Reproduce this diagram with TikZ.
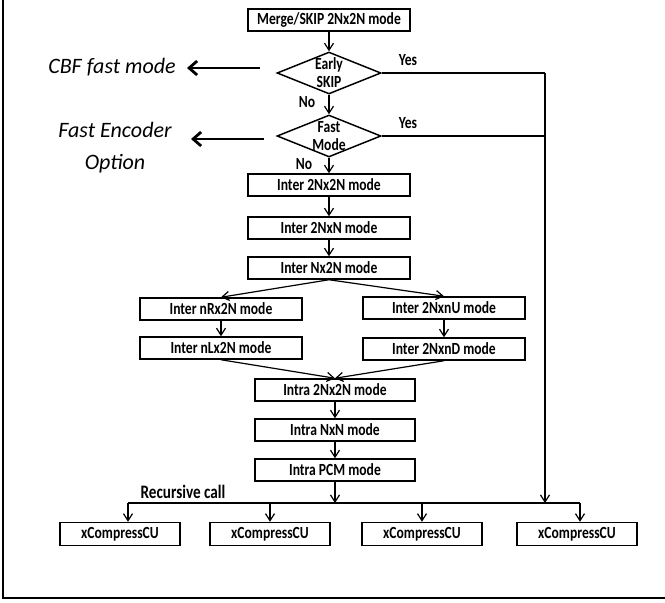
\documentclass[tikz,border=0pt]{standalone}
\usepackage{fontspec}
\setmainfont{Carlito}
\newfontfamily\boxfont{Carlito}[FakeStretch=0.8]
\usetikzlibrary{shapes.geometric,arrows.meta}

\tikzset{
  modebox/.style={draw,line width=1.5pt,minimum width=162pt,minimum height=22pt,
    inner sep=0pt,font=\boxfont\bfseries\fontsize{17}{17}\selectfont},
  cubox/.style={modebox,minimum width=120pt,minimum height=23pt},
  decision/.style={draw,diamond,line width=1.5pt,minimum width=104pt,minimum height=42pt,
    inner sep=0pt},
  decisiontext/.style={align=center,inner sep=0pt,font=\boxfont\bfseries\fontsize{17}{18}\selectfont},
  flow/.style={line width=1.2pt,-{Straight Barb[length=7pt,width=9pt]}},
  plain/.style={line width=1.2pt},
  bigarrow/.style={line width=2.8pt,-{Straight Barb[length=8pt,width=14pt]}},
  ynlabel/.style={font=\boxfont\bfseries\fontsize{17}{17}\selectfont},
  sidelabel/.style={font=\itshape\fontsize{22}{32}\selectfont,align=center}
}

\begin{document}
\begin{tikzpicture}[x=1pt,y=-1pt]
    \useasboundingbox (0,0) rectangle (665,603);
    % frame
    \draw[line width=2pt] (3,0) -- (3,598) -- (665,598);

    % top of the chart
    \node[modebox] (merge) at (329,20) {Merge/SKIP 2Nx2N mode};
    \node[decision] (early) at (329,73) {};
    \node[decisiontext] (earlytxt) at (early) {Early\\SKIP};
    \node[decision] (fastm) at (329,136) {};
    \node[decisiontext] (fastmtxt) at (fastm) {Fast\\Mode};
    \draw[flow] (merge) -- (early);
    \draw[flow] (early) -- (fastm);
    \node[ynlabel] (no1) at (307,102) {No};
    \node[ynlabel] (no2) at (304,164) {No};
    \node[ynlabel] (yes1) at (408,60) {Yes};
    \node[ynlabel] (yes2) at (408,123) {Yes};

    % notes on the left
    \node[sidelabel] (cbf) at (112,67) {CBF fast mode};
    \node[sidelabel] (fenc) at (115,148) {Fast Encoder\\Option};
    \coordinate (cbfend) at (260,68);
    \coordinate (cbfhead) at (187,68);
    \coordinate (fencend) at (264,139);
    \coordinate (fenchead) at (191,139);
    \draw[bigarrow] (cbfend) -- (cbfhead);
    \draw[bigarrow] (fencend) -- (fenchead);

    % inter modes
    \node[modebox] (inter1) at (329,185) {Inter 2Nx2N mode};
    \node[modebox] (inter2) at (329,228) {Inter 2NxN mode};
    \node[modebox] (inter3) at (329,268) {Inter Nx2N mode};
    \node[modebox] (nrx) at (221,309) {Inter nRx2N mode};
    \node[modebox] (nlx) at (221,348) {Inter nLx2N mode};
    \node[modebox] (nu) at (444,308) {Inter 2NxnU mode};
    \node[modebox] (nd) at (444,349) {Inter 2NxnD mode};
    \draw[flow] (fastm) -- (inter1);
    \draw[flow] (inter1) -- (inter2);
    \draw[flow] (inter2) -- (inter3);
    \draw[flow] (inter3.south) -- (nrx.north);
    \draw[flow] (inter3.south) -- (nu.north);
    \draw[flow] (nrx) -- (nlx);
    \draw[flow] (nu) -- (nd);

    % intra modes
    \node[modebox,minimum width=160pt] (intra1) at (335,390) {Intra 2Nx2N mode};
    \node[modebox,minimum width=160pt] (intra2) at (335,430) {Intra NxN mode};
    \node[modebox,minimum width=160pt] (intra3) at (335,470) {Intra PCM mode};
    \draw[flow] (nlx.south) -- (intra1.north);
    \draw[flow] (nd.south) -- (intra1.north);
    \draw[flow] (intra1) -- (intra2);
    \draw[flow] (intra2) -- (intra3);

    % skip path on the right
    \coordinate (railtop) at (545,73);
    \coordinate (railbot) at (545,503);
    \draw[plain] (early.east) -- (railtop);
    \draw[plain] (fastm.east) -- (fastm.east -| railtop);
    \draw[flow] (railtop) -- (railbot);

    % recursive call
    \coordinate (busl) at (128,503);
    \coordinate (busr) at (580,503);
    \node[ynlabel,font=\boxfont\bfseries\fontsize{19}{19}\selectfont] (rec) at (183,492) {Recursive call};
    \draw[flow] (intra3) -- (intra3 |- busl);
    \draw[plain] (busl) -- (busr);
    \node[cubox] (xc1) at (120,534) {xCompressCU};
    \node[cubox] (xc2) at (270,534) {xCompressCU};
    \node[cubox] (xc3) at (422,534) {xCompressCU};
    \node[cubox] (xc4) at (577,534) {xCompressCU};
    \draw[flow] (busl) -- (busl |- xc1.north);
    \draw[flow] (xc2 |- busl) -- (xc2.north);
    \draw[flow] (xc3 |- busl) -- (xc3.north);
    \draw[flow] (busr) -- (busr |- xc4.north);
\end{tikzpicture}
\end{document}
